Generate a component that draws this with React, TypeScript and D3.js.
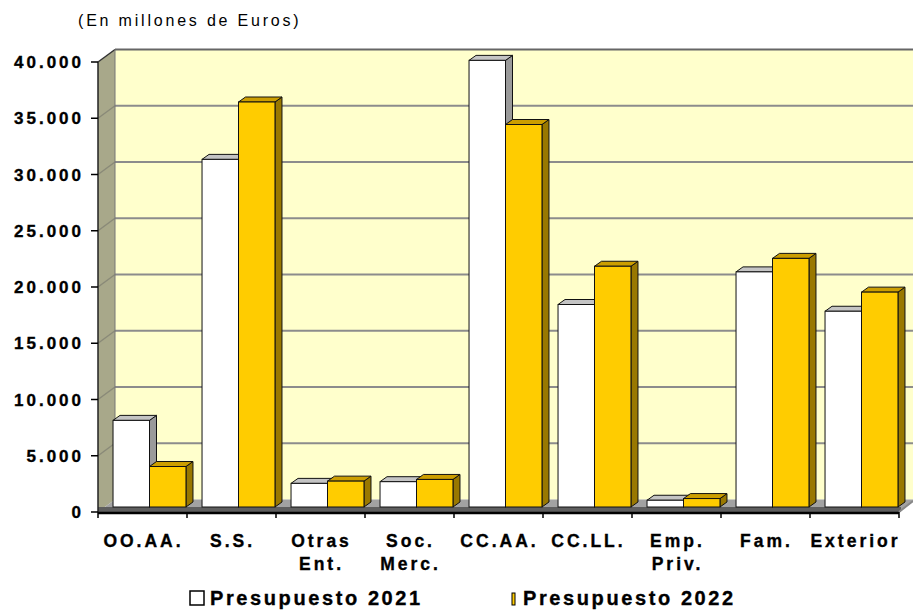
import React from "react";
import * as d3 from "d3";

const categories = ["OO.AA.", "S.S.", "Otras\nEnt.", "Soc.\nMerc.", "CC.AA.", "CC.LL.", "Emp.\nPriv.", "Fam.", "Exterior"];
const seriesNames = ["Presupuesto 2021", "Presupuesto 2022"];
const values2021 = [7700, 30900, 2100, 2250, 39700, 18000, 600, 20900, 17400];
const values2022 = [3600, 36000, 2300, 2450, 34000, 21400, 750, 22100, 19100];
const yTicks = [0, 5000, 10000, 15000, 20000, 25000, 30000, 35000, 40000];
const titleText = "(En millones de Euros)";

const W = 913, H = 613;
const X0 = 98, X1 = 899, Y0 = 512, Y1 = 62;
const DX = 17, DY = -12.5; // wall depth
const BX = 7, BY = -5; // bar plane offset
const SX = 7, SY = -5; // bar depth

const faces = [
  { front: "#ffffff", top: "#c4c4c4", side: "#9a9a9a" },
  { front: "#ffcc00", top: "#cc9e00", side: "#997800" },
];

const FONT = "'Liberation Sans', Arial, sans-serif";

export default function App() {
  const y = d3.scaleLinear().domain([0, 40000]).range([Y0, Y1]);
  const x = d3.scaleBand<string>().domain(categories).range([X0, X1]).paddingInner(0).paddingOuter(0);
  const xs = d3.scaleBand<string>().domain(seriesNames).range([0, x.bandwidth()]).paddingInner(0).paddingOuter(0.22);
  const fmt = d3.formatLocale({ decimal: ",", thousands: ".", grouping: [3], currency: ["", "€"] }).format(",");
  const series = [values2021, values2022];

  const pts = (arr: number[][]) => arr.map((p) => p.join(",")).join(" ");

  const bars: React.ReactNode[] = [];
  categories.forEach((c, i) => {
    series.forEach((vals, s) => {
      const v = vals[i];
      const l = (x(c) as number) + (xs(seriesNames[s]) as number) + BX;
      const r = l + xs.bandwidth();
      const t = y(v) + BY;
      const b = y(0) + BY;
      const f = faces[s];
      bars.push(
        <g key={c + s}>
          <polygon points={pts([[r, t], [r + SX, t + SY], [r + SX, b + SY], [r, b]])} fill={f.side} stroke="#111" strokeWidth={1} />
          <polygon points={pts([[l, t], [l + SX, t + SY], [r + SX, t + SY], [r, t]])} fill={f.top} stroke="#111" strokeWidth={1} />
          <rect x={l} y={t} width={r - l} height={b - t} fill={f.front} stroke="#111" strokeWidth={1} />
        </g>
      );
    });
  });

  const boldStroke = { stroke: "#000", strokeWidth: 0.35 };

  return (
    <svg width={W} height={H} style={{ position: "absolute", left: 0, top: 0, background: "#fff" }} fontFamily={FONT}>
      <rect x={0} y={0} width={W} height={H} fill="#fff" />
      {/* side wall */}
      <polygon points={pts([[X0, y(0)], [X0, y(40000)], [X0 + DX, y(40000) + DY], [X0 + DX, y(0) + DY]])} fill="#a8a88a" />
      {/* back wall */}
      <rect x={X0 + DX} y={y(40000) + DY} width={W - X0 - DX} height={y(0) - y(40000)} fill="#ffffcc" />
      {/* gridlines */}
      {yTicks.filter((t) => t > 0 && t < 40000).map((t) => (
        <g key={"g" + t}>
          <line x1={X0} y1={y(t)} x2={X0 + DX} y2={y(t) + DY} stroke="#8a8a78" strokeWidth={1.5} />
          <line x1={X0 + DX} y1={y(t) + DY} x2={W} y2={y(t) + DY} stroke="#8c8c8c" strokeWidth={2} />
        </g>
      ))}
      {/* top edges */}
      <line x1={X0 + DX} y1={y(40000) + DY} x2={W} y2={y(40000) + DY} stroke="#666" strokeWidth={2} />
      <line x1={X0} y1={y(40000)} x2={X0 + DX} y2={y(40000) + DY} stroke="#333" strokeWidth={1.5} />
      <line x1={X0 + DX} y1={y(40000) + DY} x2={X0 + DX} y2={y(0) + DY} stroke="#777" strokeWidth={1} />
      {/* floor */}
      <polygon points={pts([[X0, y(0)], [X0 + DX, y(0) + DY], [W, y(0) + DY], [W, y(0) - 12 * (W - X1) / DX], [X1, y(0)]])} fill="#a2a2a2" />
      <rect x={X0} y={y(0) + BY} width={X1 - X0 + 2} height={-BY} fill="#5e5e5e" />
      {bars}
      {/* axes */}
      <line x1={X0} y1={y(0) + 1} x2={X1} y2={y(0) + 1} stroke="#000" strokeWidth={2.5} />
      <line x1={X1} y1={y(0)} x2={X1 + 14} y2={y(0) - 11} stroke="#888" strokeWidth={2} />
      <line x1={X0} y1={y(0)} x2={X0} y2={y(40000)} stroke="#222" strokeWidth={1.5} />
      {yTicks.map((t) => (
        <g key={"t" + t}>
          <line x1={X0 - 7} y1={y(t)} x2={X0} y2={y(t)} stroke="#000" strokeWidth={1.5} />
          <text x={84} y={y(t)} dy="0.36em" textAnchor="end" fontSize={17} fontWeight="bold" letterSpacing={3} fill="#000" {...boldStroke}>
            {fmt(t)}
          </text>
        </g>
      ))}
      {categories.map((c) => (
        <line key={"ct" + c} x1={x(c) as number} y1={y(0)} x2={x(c) as number} y2={y(0) + 6} stroke="#000" strokeWidth={1.5} />
      ))}
      <line x1={X1} y1={y(0)} x2={X1} y2={y(0) + 6} stroke="#000" strokeWidth={1.5} />
      {categories.map((c) => {
        const cx = (x(c) as number) + x.bandwidth() / 2 + 1;
        return (
          <text key={"cl" + c} x={cx} y={547} textAnchor="middle" fontSize={17.5} fontWeight="bold" letterSpacing={3} fill="#000" {...boldStroke}>
            {c.split("\n").map((ln, k) => (
              <tspan key={k} x={cx} dy={k === 0 ? 0 : 23}>{ln}</tspan>
            ))}
          </text>
        );
      })}
      {/* title */}
      <text x={78} y={26} fontSize={16} letterSpacing={2.8} fill="#000">{titleText}</text>
      {/* legend */}
      <rect x={190} y={591} width={14} height={14} fill="#fff" stroke="#000" strokeWidth={1.5} />
      <text x={210} y={605} fontSize={20} fontWeight="bold" letterSpacing={2.6} fill="#000" {...boldStroke}>{seriesNames[0]}</text>
      <rect x={512} y={593} width={3} height={12} fill="#ffcc00" stroke="#000" strokeWidth={1} />
      <text x={523} y={605} fontSize={20} fontWeight="bold" letterSpacing={2.6} fill="#000" {...boldStroke}>{seriesNames[1]}</text>
    </svg>
  );
}
